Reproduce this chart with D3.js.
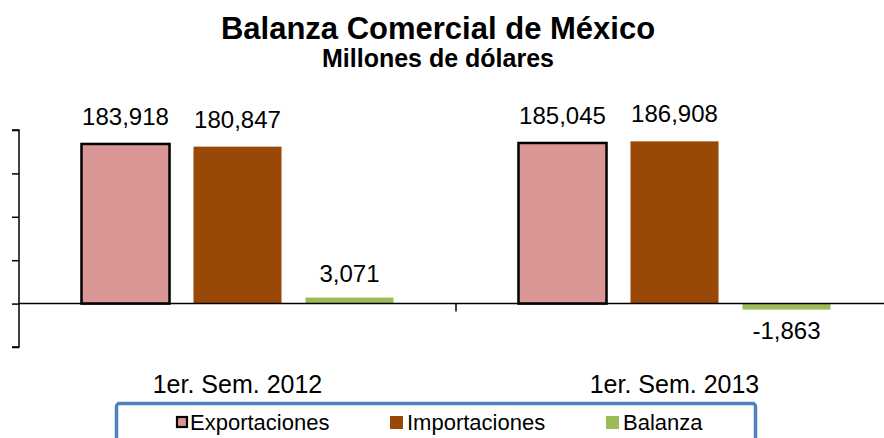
<!DOCTYPE html>
<html>
<head>
<meta charset="utf-8">
<script src="https://cdn.jsdelivr.net/npm/d3@7"></script>
<style>
  body { margin: 0; background: #fff; }
  svg { font-family: 'Liberation Sans', Arial, sans-serif; display: block; }
</style>
</head>
<body>
<svg id="chart"></svg>
<script>
const width = 884
const height = 438

// data
const periods = ['1er. Sem. 2012', '1er. Sem. 2013']
const series = ['Exportaciones', 'Importaciones', 'Balanza']
const exportaciones = [183918, 185045]
const importaciones = [180847, 186908]
const balanza = [3071, -1863]
const yTicks = [-50000, 0, 50000, 100000, 150000, 200000]

const colors = { Exportaciones: '#d99694', Importaciones: '#984807', Balanza: '#9bbb59' }

const rows = periods.map((p, i) => ({
  period: p,
  values: [
    { key: 'Exportaciones', value: exportaciones[i] },
    { key: 'Importaciones', value: importaciones[i] },
    { key: 'Balanza', value: balanza[i] },
  ],
}))

const svg = d3.select('#chart').attr('width', width).attr('height', height)

const plot = { left: 19, right: 893, top: 130, bottom: 347 }

const x0 = d3.scaleBand().domain(periods).range([plot.left, plot.right])
const x1 = d3
  .scaleBand()
  .domain(series)
  .range([0, x0.bandwidth()])
  .paddingInner(0.214)
  .paddingOuter(0.558)

const y = d3.scaleLinear().domain([-50000, 200000]).range([plot.bottom, plot.top])

// plain hyphen for negatives, like the original
const fmt = d3.formatLocale({ decimal: '.', thousands: ',', grouping: [3], currency: ['$', ''], minus: '-' }).format(',')

// title
svg
  .append('text')
  .attr('x', 438)
  .attr('y', 39)
  .attr('text-anchor', 'middle')
  .style('font-size', '31px')
  .style('font-weight', 'bold')
  .text('Balanza Comercial de México')

svg
  .append('text')
  .attr('x', 438)
  .attr('y', 67)
  .attr('text-anchor', 'middle')
  .style('font-size', '25px')
  .style('font-weight', 'bold')
  .text('Millones de dólares')

// y axis (no labels)
const yAxis = d3.axisLeft(y).tickValues(yTicks).tickSize(7).tickFormat('')
svg
  .append('g')
  .attr('transform', `translate(${plot.left},0)`)
  .call(yAxis)
  .call((g) => g.select('.domain').attr('d', `M-7,${y(-50000)}H0V${y(200000)}H-7`))
  .selectAll('line, path')
  .attr('stroke', '#000')
  .attr('stroke-width', 1.5)

// bars
const groups = svg
  .selectAll('g.period')
  .data(rows)
  .enter()
  .append('g')
  .attr('class', 'period')
  .attr('transform', (d) => `translate(${x0(d.period)},0)`)

const minH = 6 // keep the tiny balance bars visible
groups
  .selectAll('rect')
  .data((d) => d.values)
  .enter()
  .append('rect')
  .attr('x', (d) => x1(d.key))
  .attr('width', x1.bandwidth())
  .attr('y', (d) => (d.value >= 0 ? Math.min(y(d.value), y(0) - minH) : y(0)))
  .attr('height', (d) => Math.max(minH, Math.abs(y(d.value) - y(0))))
  .attr('fill', (d) => colors[d.key])
  .attr('stroke', (d) => (d.key === 'Exportaciones' ? '#000' : 'none'))
  .attr('stroke-width', 2.5)

groups
  .selectAll('text')
  .data((d) => d.values)
  .enter()
  .append('text')
  .attr('x', (d) => x1(d.key) + x1.bandwidth() / 2)
  .attr('y', (d) => (d.value >= 0 ? y(d.value) - 19 : y(d.value) + 34))
  .attr('text-anchor', 'middle')
  .style('font-size', '24px')
  .text((d) => fmt(d.value))

// zero line & category axis
svg
  .append('line')
  .attr('x1', plot.left)
  .attr('x2', width)
  .attr('y1', y(0))
  .attr('y2', y(0))
  .attr('stroke', '#000')
  .attr('stroke-width', 1.5)

svg
  .append('line')
  .attr('x1', x0(periods[1]))
  .attr('x2', x0(periods[1]))
  .attr('y1', y(0))
  .attr('y2', y(0) + 8)
  .attr('stroke', '#000')
  .attr('stroke-width', 1.5)

svg
  .selectAll('text.cat')
  .data(periods)
  .enter()
  .append('text')
  .attr('class', 'cat')
  .attr('x', (d) => x0(d) + x0.bandwidth() / 2)
  .attr('y', 393)
  .attr('text-anchor', 'middle')
  .style('font-size', '25px')
  .text((d) => d)

// legend
svg
  .append('rect')
  .attr('x', 116.5)
  .attr('y', 403.5)
  .attr('width', 639)
  .attr('height', 60)
  .attr('rx', 3)
  .attr('fill', '#fff')
  .attr('stroke', '#4f81bd')
  .attr('stroke-width', 3.5)

const legendX = [176, 390, 606]
const legend = svg
  .selectAll('g.legend')
  .data(series)
  .enter()
  .append('g')
  .attr('class', 'legend')
  .attr('transform', (d, i) => `translate(${legendX[i]},0)`)

legend
  .append('rect')
  .attr('x', (d) => (d === 'Exportaciones' ? 1 : 0))
  .attr('y', (d) => (d === 'Exportaciones' ? 417 : 416))
  .attr('width', (d) => (d === 'Exportaciones' ? 10 : 13))
  .attr('height', (d) => (d === 'Exportaciones' ? 10 : 13))
  .attr('fill', (d) => colors[d])
  .attr('stroke', (d) => (d === 'Exportaciones' ? '#000' : 'none'))
  .attr('stroke-width', 2.2)

legend
  .append('text')
  .attr('x', (d) => (d === 'Exportaciones' ? 14 : 17))
  .attr('y', 430)
  .style('font-size', '22px')
  .text((d) => d)
</script>
</body>
</html>
